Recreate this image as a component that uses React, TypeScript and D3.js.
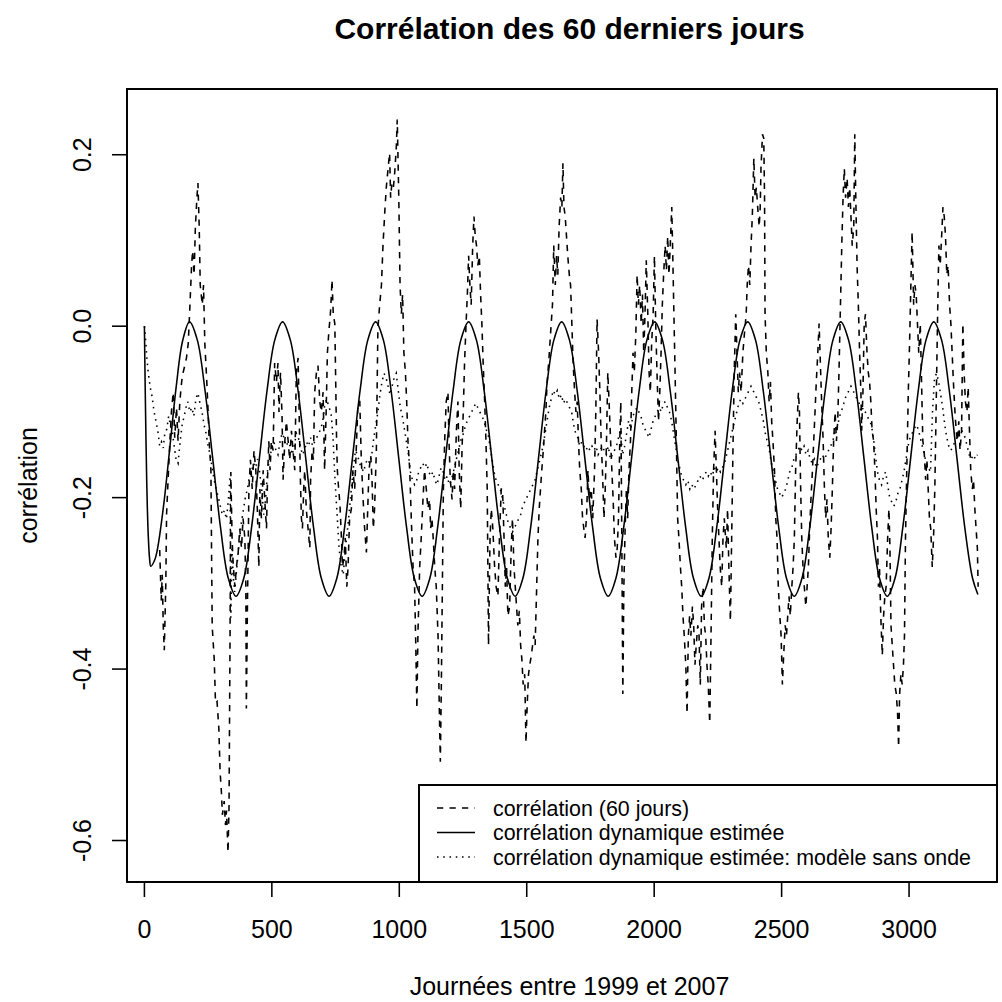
import React from "react";
import * as d3 from "d3";

// ---- data -------------------------------------------------------------

const titleText = "Corrélation des 60 derniers jours";
const xLabelText = "Journées entre 1999 et 2007";
const yLabelText = "corrélation";

const xTicks = [0, 500, 1000, 1500, 2000, 2500, 3000];
const yTicks = [-0.6, -0.4, -0.2, 0.0, 0.2];
const yTickLabels = ["-0.6", "-0.4", "-0.2", "0.0", "0.2"];

const legendLabels = [
  "corrélation (60 jours)",
  "corrélation dynamique estimée",
  "corrélation dynamique estimée: modèle sans onde",
];

// 60-day rolling correlation: [day, correlation]
const rolling60: [number, number][] = [
  [60,-0.261],[66,-0.32],[70,-0.29],[74,-0.35],[78,-0.378],[84,-0.3],[87,-0.219],[93,-0.179],[100,-0.134],[106,-0.1],
  [113,-0.077],[119,-0.13],[126,-0.095],[132,-0.134],[139,-0.088],[146,-0.065],[152,-0.054],[159,-0.045],[165,-0.037],[172,-0.02],
  [178,0.02],[185,0.07],[189,0.088],[195,0.06],[200,0.116],[206,0.15],[210,0.167],[215,0.116],[219,0.048],[227,0.025],
  [232,0.048],[237,-0.02],[244,-0.06],[250,-0.1],[254,-0.134],[261,-0.168],[263,-0.247],[266,-0.35],[274,-0.389],[279,-0.44],
  [285,-0.438],[292,-0.469],[297,-0.52],[302,-0.543],[306,-0.57],[313,-0.554],[318,-0.582],[322,-0.565],[328,-0.614],[332,-0.56],
  [336,-0.361],[339,-0.17],[344,-0.247],[348,-0.276],[355,-0.304],[361,-0.281],[368,-0.264],[374,-0.236],[381,-0.259],[387,-0.224],
  [394,-0.247],[398,-0.304],[400,-0.446],[404,-0.332],[410,-0.19],[416,-0.156],[423,-0.19],[430,-0.145],[437,-0.168],[443,-0.213],
  [449,-0.281],[453,-0.19],[459,-0.224],[466,-0.168],[472,-0.202],[479,-0.236],[483,-0.179],[488,-0.134],[493,-0.168],[498,-0.134],
  [505,-0.145],[511,-0.043],[518,-0.065],[524,-0.043],[528,-0.1],[534,-0.054],[540,-0.105],[544,-0.179],[551,-0.134],[557,-0.111],
  [564,-0.134],[570,-0.156],[577,-0.122],[583,-0.145],[590,-0.168],[596,-0.054],[603,-0.037],[607,-0.1],[612,-0.179],[616,-0.224],
  [620,-0.236],[625,-0.19],[629,-0.168],[635,-0.213],[642,-0.236],[649,-0.259],[652,-0.179],[658,-0.145],[663,-0.156],[668,-0.077],
  [675,-0.054],[681,-0.046],[688,-0.088],[694,-0.1],[701,-0.077],[707,-0.168],[713,-0.1],[718,-0.031],[723,-0.009],[731,0.02],
  [736,0.054],[741,0.014],[747,0.003],[750,-0.054],[754,-0.134],[757,-0.168],[762,-0.19],[767,-0.207],[773,-0.247],[777,-0.281],
  [783,-0.27],[788,-0.247],[794,-0.304],[799,-0.281],[805,-0.224],[812,-0.213],[818,-0.168],[825,-0.19],[831,-0.145],[838,-0.088],
  [845,-0.088],[851,-0.156],[858,-0.202],[864,-0.236],[871,-0.264],[875,-0.224],[881,-0.168],[888,-0.151],[893,-0.179],[898,-0.236],
  [903,-0.213],[910,-0.145],[916,-0.003],[923,0.025],[930,0.048],[936,0.094],[943,0.133],[949,0.162],[956,0.184],[962,0.202],
  [966,0.15],[971,0.167],[977,0.162],[982,0.179],[988,0.207],[992,0.241],[998,0.15],[1003,0.048],[1008,0.014],[1013,0.037],
  [1018,-0.031],[1024,-0.054],[1029,-0.088],[1034,-0.134],[1041,-0.168],[1047,-0.224],[1054,-0.281],[1060,-0.304],[1064,-0.361],[1069,-0.446],
  [1073,-0.361],[1080,-0.281],[1086,-0.247],[1093,-0.202],[1099,-0.168],[1106,-0.19],[1112,-0.213],[1119,-0.202],[1123,-0.236],[1128,-0.224],
  [1133,-0.247],[1139,-0.281],[1145,-0.304],[1152,-0.361],[1157,-0.446],[1161,-0.508],[1165,-0.418],[1169,-0.304],[1173,-0.19],[1178,-0.134],
  [1184,-0.088],[1191,-0.077],[1195,-0.134],[1200,-0.179],[1207,-0.202],[1212,-0.168],[1217,-0.19],[1224,-0.122],[1230,-0.088],[1235,-0.168],
  [1241,-0.213],[1246,-0.145],[1251,-0.1],[1256,-0.043],[1262,0.003],[1267,0.037],[1272,0.082],[1277,0.048],[1282,0.025],[1288,0.094],
  [1293,0.128],[1298,0.105],[1303,0.094],[1308,0.071],[1314,0.082],[1319,0.037],[1324,0.003],[1329,-0.043],[1335,-0.088],[1340,-0.134],
  [1345,-0.19],[1350,-0.372],[1356,-0.247],[1361,-0.213],[1367,-0.236],[1374,-0.281],[1380,-0.304],[1387,-0.315],[1393,-0.247],[1400,-0.19],
  [1405,-0.19],[1411,-0.247],[1416,-0.304],[1421,-0.281],[1426,-0.338],[1433,-0.327],[1439,-0.259],[1444,-0.224],[1450,-0.281],[1455,-0.304],
  [1460,-0.327],[1465,-0.349],[1471,-0.332],[1476,-0.372],[1481,-0.389],[1486,-0.418],[1492,-0.406],[1497,-0.486],[1502,-0.44],[1507,-0.406],
  [1512,-0.395],[1518,-0.384],[1523,-0.372],[1528,-0.361],[1533,-0.372],[1539,-0.304],[1544,-0.247],[1549,-0.213],[1554,-0.19],[1559,-0.168],
  [1565,-0.145],[1570,-0.122],[1575,-0.1],[1580,-0.065],[1586,-0.043],[1591,-0.02],[1596,0.003],[1601,0.025],[1606,0.094],[1612,0.048],
  [1617,0.082],[1622,0.06],[1627,0.116],[1633,0.15],[1638,0.139],[1642,0.19],[1646,0.139],[1651,0.128],[1656,0.105],[1661,0.082],
  [1667,0.06],[1672,0.048],[1677,0.003],[1682,-0.043],[1688,-0.077],[1693,-0.1],[1698,-0.088],[1703,-0.134],[1708,-0.168],[1714,-0.19],
  [1719,-0.224],[1724,-0.236],[1729,-0.247],[1735,-0.219],[1740,-0.168],[1746,-0.202],[1753,-0.19],[1759,-0.224],[1766,-0.168],[1771,-0.1],
  [1776,0.008],[1782,-0.031],[1787,-0.077],[1792,-0.134],[1797,-0.168],[1803,-0.224],[1808,-0.19],[1813,-0.134],[1818,-0.054],[1823,-0.088],
  [1829,-0.134],[1834,-0.168],[1839,-0.202],[1844,-0.247],[1850,-0.27],[1855,-0.259],[1860,-0.224],[1865,-0.134],[1869,-0.088],[1873,-0.247],
  [1877,-0.429],[1881,-0.304],[1886,-0.236],[1891,-0.19],[1896,-0.224],[1901,-0.168],[1907,-0.134],[1912,-0.077],[1917,-0.031],[1922,-0.054],
  [1928,-0.009],[1933,0.06],[1938,0.025],[1943,0.048],[1949,0.003],[1954,0.037],[1959,-0.031],[1964,0.014],[1969,0.077],[1975,0.014],
  [1980,-0.054],[1985,-0.077],[1990,-0.02],[1996,0.014],[2001,0.082],[2006,0.003],[2011,-0.054],[2017,-0.111],[2022,-0.077],[2027,-0.031],
  [2032,0.025],[2037,0.06],[2043,0.094],[2048,0.065],[2053,0.105],[2058,0.06],[2063,0.094],[2069,0.139],[2073,0.082],[2077,0.02],
  [2082,-0.054],[2087,-0.134],[2092,-0.224],[2097,-0.247],[2103,-0.281],[2108,-0.304],[2113,-0.338],[2118,-0.361],[2124,-0.395],[2129,-0.452],
  [2134,-0.361],[2139,-0.338],[2144,-0.361],[2150,-0.327],[2155,-0.349],[2160,-0.395],[2165,-0.372],[2171,-0.349],[2176,-0.361],[2181,-0.418],
  [2186,-0.327],[2192,-0.304],[2197,-0.349],[2202,-0.361],[2207,-0.395],[2212,-0.418],[2218,-0.463],[2223,-0.361],[2228,-0.247],[2233,-0.168],
  [2239,-0.122],[2244,-0.168],[2249,-0.213],[2254,-0.247],[2259,-0.281],[2265,-0.304],[2270,-0.247],[2275,-0.224],[2283,-0.259],[2288,-0.213],
  [2293,-0.281],[2299,-0.344],[2304,-0.247],[2309,-0.145],[2314,-0.054],[2320,0.014],[2325,-0.031],[2330,-0.077],[2335,-0.054],[2341,-0.077],
  [2348,-0.031],[2354,-0.009],[2361,0.014],[2365,0.048],[2370,0.071],[2375,0.048],[2380,0.094],[2385,0.128],[2391,0.196],[2396,0.15],
  [2401,0.162],[2406,0.139],[2412,0.116],[2416,0.139],[2419,0.184],[2425,0.224],[2430,0.219],[2433,0.15],[2435,0.014],[2440,-0.031],
  [2446,-0.054],[2451,-0.088],[2456,-0.065],[2461,-0.111],[2466,-0.134],[2472,-0.168],[2477,-0.224],[2482,-0.247],[2487,-0.304],[2493,-0.338],
  [2498,-0.361],[2503,-0.418],[2508,-0.384],[2514,-0.349],[2519,-0.361],[2524,-0.338],[2529,-0.315],[2534,-0.338],[2540,-0.304],[2545,-0.281],
  [2550,-0.247],[2555,-0.168],[2561,-0.111],[2566,-0.077],[2570,-0.1],[2574,-0.179],[2579,-0.247],[2584,-0.281],[2589,-0.304],[2595,-0.327],
  [2600,-0.304],[2605,-0.281],[2610,-0.236],[2615,-0.202],[2621,-0.168],[2626,-0.134],[2631,-0.1],[2636,-0.065],[2642,-0.031],[2647,0.003],
  [2652,-0.043],[2657,-0.088],[2663,-0.134],[2668,-0.19],[2673,-0.224],[2678,-0.202],[2683,-0.247],[2689,-0.27],[2694,-0.236],[2699,-0.19],
  [2704,-0.134],[2710,-0.1],[2715,-0.134],[2720,-0.111],[2725,-0.054],[2730,0.014],[2736,0.094],[2741,0.15],[2746,0.184],[2751,0.15],
  [2757,0.173],[2762,0.139],[2767,0.162],[2772,0.128],[2777,0.094],[2783,0.116],[2787,0.224],[2791,0.15],[2796,0.071],[2801,0.025],
  [2806,-0.031],[2811,-0.077],[2814,-0.122],[2819,-0.077],[2824,0.003],[2829,0.014],[2835,-0.031],[2840,-0.054],[2845,-0.065],[2850,-0.088],
  [2855,-0.122],[2861,-0.134],[2866,-0.168],[2871,-0.213],[2876,-0.247],[2880,-0.304],[2884,-0.281],[2889,-0.338],[2895,-0.384],[2900,-0.338],
  [2905,-0.315],[2910,-0.304],[2916,-0.247],[2921,-0.213],[2925,-0.259],[2929,-0.349],[2934,-0.372],[2939,-0.395],[2944,-0.418],[2950,-0.429],
  [2955,-0.452],[2959,-0.491],[2963,-0.429],[2968,-0.406],[2973,-0.418],[2978,-0.395],[2982,-0.361],[2986,-0.247],[2991,-0.168],[2997,-0.077],
  [3002,-0.02],[3007,0.048],[3012,0.11],[3018,0.025],[3023,0.048],[3028,0.037],[3033,0.003],[3038,-0.031],[3044,0.003],[3049,-0.065],
  [3054,-0.134],[3059,-0.145],[3065,-0.179],[3070,-0.156],[3075,-0.19],[3080,-0.224],[3085,-0.236],[3091,-0.281],[3096,-0.247],[3101,-0.19],
  [3106,-0.1],[3112,0.014],[3117,0.094],[3122,0.071],[3127,0.1],[3133,0.139],[3138,0.128],[3143,0.105],[3148,0.06],[3153,0.071],
  [3159,0.025],[3164,0.003],[3169,-0.031],[3174,-0.065],[3180,-0.1],[3185,-0.122],[3190,-0.134],[3195,-0.111],[3200,-0.145],[3206,-0.122],
  [3211,0.003],[3216,-0.054],[3221,-0.088],[3227,-0.1],[3232,-0.071],[3237,-0.122],[3242,-0.168],[3248,-0.19],[3253,-0.179],[3258,-0.213],
  [3263,-0.236],[3268,-0.259],[3271,-0.304],
];

// estimated dynamic correlation (model with annual wave): [day, correlation]
const dynamicWave: [number, number][] = [
  [0,0],[3,-0.07],[6,-0.13],[9,-0.18],[12,-0.217],[16,-0.25],[20,-0.27],[25,-0.28],[40,-0.273],[50,-0.262],
  [75,-0.21],[100,-0.141],[125,-0.07],[150,-0.017],
  [177,0.005],[207.4,-0.016],[237.8,-0.075],[268.3,-0.155],[298.7,-0.235],[329.1,-0.294],[359.5,-0.315],[389.9,-0.294],[420.3,-0.235],[450.8,-0.155],[481.2,-0.075],[511.6,-0.016],
  [542,0.005],[572.4,-0.016],[602.8,-0.075],[633.3,-0.155],[663.7,-0.235],[694.1,-0.294],[724.5,-0.315],[754.9,-0.294],[785.3,-0.235],[815.8,-0.155],[846.2,-0.075],[876.6,-0.016],
  [907,0.005],[937.4,-0.016],[967.8,-0.075],[998.3,-0.155],[1028.7,-0.235],[1059.1,-0.294],[1089.5,-0.315],[1119.9,-0.294],[1150.3,-0.235],[1180.8,-0.155],[1211.2,-0.075],[1241.6,-0.016],
  [1272,0.005],[1302.4,-0.016],[1332.8,-0.075],[1363.3,-0.155],[1393.7,-0.235],[1424.1,-0.294],[1454.5,-0.315],[1484.9,-0.294],[1515.3,-0.235],[1545.8,-0.155],[1576.2,-0.075],[1606.6,-0.016],
  [1637,0.005],[1667.4,-0.016],[1697.8,-0.075],[1728.3,-0.155],[1758.7,-0.235],[1789.1,-0.294],[1819.5,-0.315],[1849.9,-0.294],[1880.3,-0.235],[1910.8,-0.155],[1941.2,-0.075],[1971.6,-0.016],
  [2002,0.005],[2032.4,-0.016],[2062.8,-0.075],[2093.3,-0.155],[2123.7,-0.235],[2154.1,-0.294],[2184.5,-0.315],[2214.9,-0.294],[2245.3,-0.235],[2275.8,-0.155],[2306.2,-0.075],[2336.6,-0.016],
  [2367,0.005],[2397.4,-0.016],[2427.8,-0.075],[2458.3,-0.155],[2488.7,-0.235],[2519.1,-0.294],[2549.5,-0.315],[2579.9,-0.294],[2610.3,-0.235],[2640.8,-0.155],[2671.2,-0.075],[2701.6,-0.016],
  [2732,0.005],[2762.4,-0.016],[2792.8,-0.075],[2823.3,-0.155],[2853.7,-0.235],[2884.1,-0.294],[2914.5,-0.315],[2944.9,-0.294],[2975.3,-0.235],[3005.8,-0.155],[3036.2,-0.075],[3066.6,-0.016],
  [3097,0.005],[3127.4,-0.016],[3157.8,-0.075],[3188.3,-0.155],[3218.7,-0.235],[3249.1,-0.294],[3270,-0.313],
];

// estimated dynamic correlation, model without the wave: [day, correlation]
const dynamicNoWave: [number, number][] = [
  [0,0],[4,-0.014],[9,-0.035],[15,-0.054],[22,-0.07],[30,-0.082],[38,-0.1],[46,-0.112],[54,-0.125],[60,-0.14],
  [67,-0.135],[74,-0.142],[80,-0.125],[88,-0.12],[95,-0.105],[102,-0.115],[110,-0.125],[117,-0.14],[124,-0.155],[132,-0.16],
  [140,-0.135],[148,-0.115],[156,-0.105],[163,-0.095],[170,-0.088],[178,-0.1],[186,-0.095],[194,-0.105],[202,-0.085],[210,-0.078],
  [218,-0.09],[226,-0.1],[234,-0.115],[242,-0.125],[250,-0.14],[258,-0.15],[266,-0.165],[274,-0.18],[282,-0.19],[290,-0.2],
  [298,-0.21],[306,-0.22],[314,-0.215],[322,-0.225],[330,-0.2],[336,-0.175],[339,-0.34],[343,-0.26],[348,-0.29],[354,-0.31],
  [360,-0.29],[366,-0.27],[372,-0.25],[380,-0.23],[388,-0.215],[396,-0.2],[404,-0.19],[412,-0.175],[420,-0.17],[428,-0.16],
  [436,-0.165],[444,-0.155],[452,-0.17],[460,-0.19],[468,-0.22],[476,-0.2],[484,-0.165],[492,-0.155],[500,-0.14],[508,-0.135],
  [516,-0.145],[524,-0.15],[532,-0.135],[540,-0.125],[548,-0.13],[556,-0.14],[564,-0.135],[572,-0.14],[580,-0.15],[588,-0.14],
  [596,-0.125],[604,-0.13],[612,-0.14],[620,-0.15],[628,-0.145],[636,-0.135],[644,-0.14],[652,-0.13],[660,-0.14],[668,-0.135],
  [676,-0.13],[684,-0.125],[692,-0.12],[700,-0.11],[708,-0.09],[716,-0.085],[724,-0.095],[732,-0.1],[740,-0.13],[748,-0.18],
  [756,-0.22],[764,-0.26],[772,-0.28],[780,-0.29],[788,-0.26],[796,-0.24],[804,-0.215],[812,-0.19],[820,-0.165],[828,-0.145],
  [836,-0.15],[844,-0.16],[852,-0.165],[860,-0.17],[868,-0.16],[876,-0.155],[884,-0.16],[892,-0.15],[900,-0.13],[908,-0.115],
  [916,-0.1],[924,-0.08],[932,-0.065],[940,-0.055],[948,-0.06],[956,-0.07],[964,-0.08],[972,-0.07],[980,-0.06],[988,-0.055],
  [996,-0.075],[1004,-0.095],[1012,-0.105],[1020,-0.12],[1028,-0.135],[1036,-0.15],[1044,-0.17],[1052,-0.18],[1060,-0.185],[1068,-0.18],
  [1076,-0.17],[1084,-0.165],[1092,-0.16],[1100,-0.165],[1108,-0.16],[1116,-0.17],[1124,-0.175],[1132,-0.17],[1140,-0.18],[1148,-0.185],
  [1156,-0.175],[1164,-0.165],[1172,-0.17],[1180,-0.18],[1188,-0.175],[1196,-0.185],[1204,-0.18],[1212,-0.17],[1220,-0.16],[1228,-0.15],
  [1236,-0.14],[1244,-0.13],[1252,-0.125],[1260,-0.115],[1268,-0.11],[1276,-0.105],[1284,-0.1],[1292,-0.095],[1300,-0.09],[1308,-0.095],
  [1316,-0.1],[1324,-0.105],[1332,-0.11],[1340,-0.12],[1348,-0.125],[1356,-0.14],[1364,-0.155],[1372,-0.17],[1380,-0.18],[1388,-0.185],
  [1396,-0.19],[1404,-0.2],[1412,-0.21],[1420,-0.22],[1428,-0.23],[1436,-0.235],[1444,-0.24],[1452,-0.235],[1460,-0.23],[1468,-0.225],
  [1476,-0.22],[1484,-0.21],[1492,-0.205],[1500,-0.2],[1508,-0.195],[1516,-0.19],[1524,-0.185],[1532,-0.18],[1540,-0.17],[1548,-0.16],
  [1556,-0.15],[1564,-0.14],[1572,-0.125],[1580,-0.11],[1588,-0.095],[1596,-0.085],[1604,-0.075],[1612,-0.08],[1620,-0.075],[1628,-0.085],
  [1636,-0.08],[1644,-0.09],[1652,-0.085],[1660,-0.09],[1668,-0.095],[1676,-0.1],[1684,-0.115],[1692,-0.125],[1700,-0.13],[1708,-0.14],
  [1716,-0.135],[1724,-0.14],[1732,-0.145],[1740,-0.14],[1748,-0.145],[1756,-0.14],[1764,-0.145],[1772,-0.14],[1780,-0.15],[1788,-0.145],
  [1796,-0.14],[1804,-0.145],[1812,-0.15],[1820,-0.14],[1828,-0.155],[1836,-0.15],[1844,-0.145],[1852,-0.14],[1860,-0.13],[1868,-0.12],
  [1876,-0.15],[1884,-0.14],[1892,-0.125],[1900,-0.11],[1908,-0.12],[1916,-0.105],[1924,-0.1],[1932,-0.095],[1940,-0.1],[1948,-0.105],
  [1956,-0.115],[1964,-0.12],[1972,-0.125],[1980,-0.13],[1988,-0.12],[1996,-0.11],[2004,-0.105],[2012,-0.1],[2020,-0.095],[2028,-0.1],
  [2036,-0.09],[2044,-0.088],[2052,-0.095],[2060,-0.1],[2068,-0.11],[2076,-0.125],[2084,-0.14],[2092,-0.155],[2100,-0.165],[2108,-0.175],
  [2116,-0.18],[2124,-0.185],[2132,-0.18],[2140,-0.19],[2148,-0.185],[2156,-0.19],[2164,-0.185],[2172,-0.18],[2180,-0.175],[2188,-0.18],
  [2196,-0.175],[2204,-0.17],[2212,-0.175],[2220,-0.17],[2228,-0.175],[2236,-0.165],[2244,-0.17],[2252,-0.165],[2260,-0.17],[2268,-0.165],
  [2276,-0.16],[2284,-0.15],[2292,-0.14],[2300,-0.13],[2308,-0.12],[2316,-0.11],[2324,-0.1],[2332,-0.09],[2340,-0.085],[2348,-0.09],
  [2356,-0.085],[2364,-0.08],[2372,-0.075],[2380,-0.07],[2388,-0.075],[2396,-0.08],[2404,-0.085],[2412,-0.09],[2420,-0.1],[2428,-0.11],
  [2436,-0.125],[2444,-0.135],[2452,-0.145],[2460,-0.16],[2468,-0.17],[2476,-0.18],[2484,-0.19],[2492,-0.195],[2500,-0.2],[2508,-0.195],
  [2516,-0.19],[2524,-0.18],[2532,-0.17],[2540,-0.165],[2548,-0.155],[2556,-0.15],[2564,-0.145],[2572,-0.14],[2580,-0.145],[2588,-0.14],
  [2596,-0.15],[2604,-0.145],[2612,-0.155],[2620,-0.16],[2628,-0.155],[2636,-0.165],[2644,-0.16],[2652,-0.155],[2660,-0.15],[2668,-0.155],
  [2676,-0.15],[2684,-0.145],[2692,-0.14],[2700,-0.135],[2708,-0.125],[2716,-0.12],[2724,-0.11],[2732,-0.1],[2740,-0.095],[2748,-0.085],
  [2756,-0.08],[2764,-0.075],[2772,-0.07],[2780,-0.075],[2788,-0.08],[2796,-0.085],[2804,-0.09],[2812,-0.1],[2820,-0.095],[2828,-0.1],
  [2836,-0.105],[2844,-0.11],[2852,-0.115],[2860,-0.13],[2868,-0.15],[2876,-0.17],[2884,-0.18],[2892,-0.185],[2900,-0.175],[2908,-0.17],
  [2916,-0.185],[2924,-0.2],[2932,-0.205],[2940,-0.21],[2948,-0.205],[2956,-0.195],[2964,-0.19],[2972,-0.18],[2980,-0.17],[2988,-0.155],
  [2996,-0.14],[3004,-0.13],[3012,-0.125],[3020,-0.12],[3028,-0.115],[3036,-0.12],[3044,-0.13],[3052,-0.14],[3060,-0.15],[3068,-0.16],
  [3076,-0.165],[3084,-0.17],[3092,-0.1],[3100,-0.06],[3108,-0.055],[3116,-0.065],[3124,-0.08],[3132,-0.095],[3140,-0.115],[3148,-0.13],
  [3156,-0.14],[3164,-0.145],[3172,-0.14],[3180,-0.135],[3188,-0.13],[3196,-0.125],[3204,-0.12],[3212,-0.125],[3220,-0.13],[3228,-0.14],
  [3236,-0.15],[3244,-0.155],[3252,-0.15],[3260,-0.155],[3268,-0.15],
];

// ---- layout -------------------------------------------------------------

const WIDTH = 1002;
const HEIGHT = 1002;
const box = { left: 127, right: 997, top: 89, bottom: 882 };
const FONT = "'Liberation Sans', Arial, Helvetica, sans-serif";
const LW = 1.56;
const DASHED = "6.25 6.25";
const DOTTED = "1.56 4.69";

export default function App() {
  const x = d3.scaleLinear().domain([-68.3, 3345]).range([box.left, box.right]);
  const y = d3.scaleLinear().domain([-0.6484, 0.2767]).range([box.bottom, box.top]);

  const straight = d3
    .line<[number, number]>()
    .x((d) => x(d[0]))
    .y((d) => y(d[1]));
  const smooth = d3
    .line<[number, number]>()
    .x((d) => x(d[0]))
    .y((d) => y(d[1]))
    .curve(d3.curveCatmullRom.alpha(0.5));

  const tickLen = 15;
  const textCenterX = 569.5;
  const legend = { left: 419, top: 785, lineX0: 437, lineX1: 475, textX: 493, rowY0: 808, rowGap: 24.5 };
  const legendStyles = [
    { dash: DASHED },
    { dash: undefined as string | undefined },
    { dash: DOTTED },
  ];

  return (
    <svg
      width={WIDTH}
      height={HEIGHT}
      viewBox={`0 0 ${WIDTH} ${HEIGHT}`}
      style={{ position: "absolute", left: 0, top: 0, display: "block", background: "#fff" }}
      fontFamily={FONT}
    >
      <rect x={0} y={0} width={WIDTH} height={HEIGHT} fill="#fff" />

      {/* series */}
      <g fill="none" stroke="#000" strokeWidth={LW}>
        <path d={straight(dynamicNoWave) ?? ""} strokeDasharray={DOTTED} />
        <path d={straight(rolling60) ?? ""} strokeDasharray={DASHED} />
        <path d={smooth(dynamicWave) ?? ""} />
      </g>

      {/* plot frame */}
      <rect
        x={box.left}
        y={box.top}
        width={box.right - box.left}
        height={box.bottom - box.top}
        fill="none"
        stroke="#000"
        strokeWidth={LW + 0.4}
      />

      {/* x axis */}
      <g stroke="#000" strokeWidth={LW}>
        <line x1={x(xTicks[0])} x2={x(xTicks[xTicks.length - 1])} y1={box.bottom} y2={box.bottom} />
        {xTicks.map((t) => (
          <line key={t} x1={x(t)} x2={x(t)} y1={box.bottom} y2={box.bottom + tickLen} />
        ))}
      </g>
      <g fontSize={25} textAnchor="middle" fill="#000">
        {xTicks.map((t) => (
          <text key={t} x={x(t)} y={938}>
            {t}
          </text>
        ))}
      </g>

      {/* y axis */}
      <g stroke="#000" strokeWidth={LW}>
        <line x1={box.left} x2={box.left} y1={y(yTicks[0])} y2={y(yTicks[yTicks.length - 1])} />
        {yTicks.map((t) => (
          <line key={t} x1={box.left - tickLen} x2={box.left} y1={y(t)} y2={y(t)} />
        ))}
      </g>
      <g fontSize={25} textAnchor="middle" fill="#000">
        {yTicks.map((t, i) => (
          <text key={t} transform={`translate(91,${y(t)}) rotate(-90)`}>
            {yTickLabels[i]}
          </text>
        ))}
      </g>

      {/* titles */}
      <text x={textCenterX} y={39} fontSize={30} fontWeight="bold" textAnchor="middle">
        {titleText}
      </text>
      <text x={textCenterX} y={995} fontSize={25} textAnchor="middle">
        {xLabelText}
      </text>
      <text
        transform={`translate(37,${(box.top + box.bottom) / 2}) rotate(-90)`}
        fontSize={25}
        textAnchor="middle"
      >
        {yLabelText}
      </text>

      {/* legend */}
      <rect
        x={legend.left}
        y={legend.top}
        width={box.right - legend.left}
        height={box.bottom - legend.top}
        fill="#fff"
        stroke="#000"
        strokeWidth={LW + 0.4}
      />
      {legendLabels.map((label, i) => {
        const cy = legend.rowY0 + i * legend.rowGap;
        return (
          <g key={label}>
            <line
              x1={legend.lineX0}
              x2={legend.lineX1}
              y1={cy}
              y2={cy}
              stroke="#000"
              strokeWidth={LW}
              strokeDasharray={legendStyles[i].dash}
            />
            <text x={legend.textX} y={cy + 7.5} fontSize={21.4}>
              {label}
            </text>
          </g>
        );
      })}
    </svg>
  );
}
